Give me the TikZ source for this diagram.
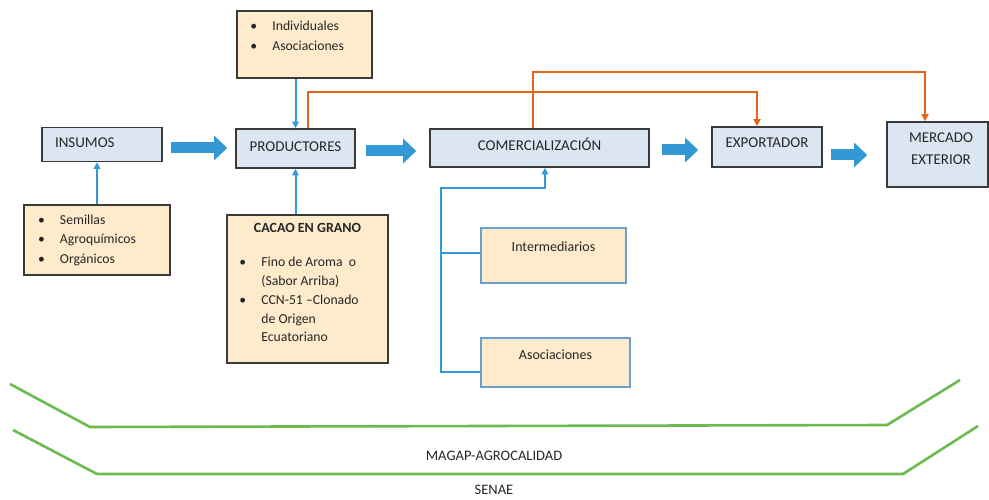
\documentclass[tikz,border=0pt]{standalone}
\usepackage{fontspec}
\setmainfont{Carlito}
\usetikzlibrary{arrows.meta}
\definecolor{boxblue}{HTML}{DCE6F2}
\definecolor{beige}{HTML}{FDEBCB}
\definecolor{edge}{HTML}{3A3A3A}
\definecolor{arrblue}{HTML}{3399D6}
\definecolor{orng}{HTML}{E5641C}
\definecolor{grn}{HTML}{6CBB4E}
\definecolor{bordblue}{HTML}{6A9FD0}
\definecolor{txt}{HTML}{262626}
\newcommand\bul{\makebox[22pt][l]{\textbullet}}
\begin{document}
\begin{tikzpicture}[x=1pt,y=-1pt,text=txt,
 box/.style={draw=edge,line width=1.6pt,fill=boxblue,inner sep=0pt,font=\fontsize{15}{18}\selectfont,text height=9.7pt},
 lift/.style={text depth=#1},
 note/.style={draw=edge,line width=1.6pt,fill=beige,inner sep=0pt},
 subbox/.style={draw=bordblue,line width=1.2pt,fill=beige,inner sep=0pt},
 lst/.style={inner sep=0pt,align=left,font=\fontsize{13.7}{19.3}\selectfont},
 lbl/.style={inner sep=0pt,font=\fontsize{14}{17}\selectfont},
 blk/.style={line width=11pt,draw=arrblue,-{Triangle[length=13pt,width=24pt]}},
 thin/.style={draw=arrblue,line width=2pt},
 thinarr/.style={thin,-{Triangle[length=6.5pt,width=6.5pt]}},
 org/.style={draw=orng,line width=2pt,-{Triangle[length=7pt,width=7pt]}},
 grline/.style={draw=grn,line width=2.6pt},
]
\useasboundingbox (0,0) rectangle (989,500);

% main boxes
\node[box,minimum width=120pt,minimum height=34pt,text width=94pt,align=left,lift=3pt] (insumos) at (102,144.5) {INSUMOS};
\node[box,minimum width=119pt,minimum height=39pt,lift=3pt] (prod) at (295.5,148.5) {PRODUCTORES};
\node[box,minimum width=219pt,minimum height=38pt,lift=4pt] (comerc) at (539.5,148) {COMERCIALIZACIÓN};
\node[box,minimum width=110pt,minimum height=40pt,lift=8pt] (expo) at (767,147) {EXPORTADOR};
\node[box,minimum width=101pt,minimum height=65pt] (merc) at (937.5,154.5) {};
\node[inner sep=0pt,align=center,font=\fontsize{15}{22}\selectfont] (merctxt) at (941,149) {MERCADO\\EXTERIOR};

% note boxes
\node[note,minimum width=135pt,minimum height=67pt] (indiv) at (304.5,44.5) {};
\node[lst,anchor=north west] (indivtxt) at ([xshift=14pt,yshift=-11pt]indiv.north west) {\bul Individuales\\\bul Asociaciones};

\node[note,minimum width=146pt,minimum height=70pt,text width=118pt,align=left,font=\fontsize{13.7}{19.5}\selectfont] (semillas) at (97,240) {\bul Semillas\\\bul Agroquímicos\\\bul Orgánicos};

\node[note,minimum width=161pt,minimum height=148pt] (cacao) at (307.5,289) {};
\node[inner sep=0pt,font=\bfseries\fontsize{14}{16}\selectfont] (cacaotit) at ([yshift=-14pt]cacao.north) {CACAO EN GRANO};
\node[lst,anchor=north west,font=\fontsize{13.7}{18.75}\selectfont] (cacaotxt) at ([xshift=13pt,yshift=-43pt]cacao.north west) {\bul Fino de Aroma\ \ o\\\hspace*{22pt}(Sabor Arriba)\\\bul CCN-51 –Clonado\\\hspace*{22pt}de Origen\\\hspace*{22pt}Ecuatoriano};

\node[subbox,minimum width=145pt,minimum height=55pt] (inter) at (553.5,255.5) {};
\node[lbl] (intertxt) at ([yshift=-19pt]inter.north) {Intermediarios};
\node[subbox,minimum width=149pt,minimum height=49pt] (asoc) at (555.5,362.5) {};
\node[lbl] (asoctxt) at ([yshift=-17pt]asoc.north) {Asociaciones};

% block arrows
\draw[blk] ([xshift=8pt,yshift=-3.5pt]insumos.east) -- ([xshift=-8pt,yshift=0.5pt]prod.west);
\draw[blk] ([xshift=10pt,yshift=-2.5pt]prod.east) -- ([xshift=-13pt,yshift=-3pt]comerc.west);
\draw[blk] ([xshift=12pt,yshift=-2pt]comerc.east) -- ([xshift=-13pt,yshift=-3pt]expo.west);
\draw[blk] ([xshift=8pt,yshift=-8pt]expo.east) -- ([xshift=-19pt,yshift=-0.5pt]merc.west);

% thin blue arrows
\draw[thinarr] (prod.north |- indiv.south) -- (prod.north);
\draw[thinarr] (semillas.north) -- (semillas.north |- insumos.south);
\draw[thinarr] (prod.south |- cacao.north) -- (prod.south);

% tree to comercializacion
\coordinate (tb) at (441,372);
\coordinate (tt) at (441,188);
\coordinate (ib) at ([yshift=2.5pt]inter.west);
\draw[thinarr] ([yshift=-9.5pt]asoc.west) -- (tb) -- (tt) -| ([xshift=5.5pt]comerc.south);
\draw[thin] (ib) -- (ib -| tb);

% orange connectors
\coordinate (oy1) at (0,92);
\coordinate (oy2) at (0,72);
\coordinate (pa) at ([xshift=12.5pt]prod.north);
\coordinate (pb) at ([xshift=-10pt]expo.north);
\draw[org] (pa) -- (pa |- oy1) -- (pb |- oy1) -- (pb);
\coordinate (ca) at ([xshift=-6.5pt]comerc.north);
\coordinate (cb) at ([xshift=-12.5pt]merc.north);
\draw[org] (ca) -- (ca |- oy2) -- (cb |- oy2) -- (cb);

% green lines
\draw[grline] (10,384) -- (90,427) -- (887,425) -- (960,380);
\draw[grline] (13,430) -- (97,474) -- (903,474) -- (978,426);
\node[inner sep=0pt,font=\fontsize{14.5}{17}\selectfont] (magap) at (494,456) {MAGAP-AGROCALIDAD};
\node[inner sep=0pt,font=\fontsize{14.5}{17}\selectfont] (senae) at (494,490) {SENAE};
\end{tikzpicture}
\end{document}
